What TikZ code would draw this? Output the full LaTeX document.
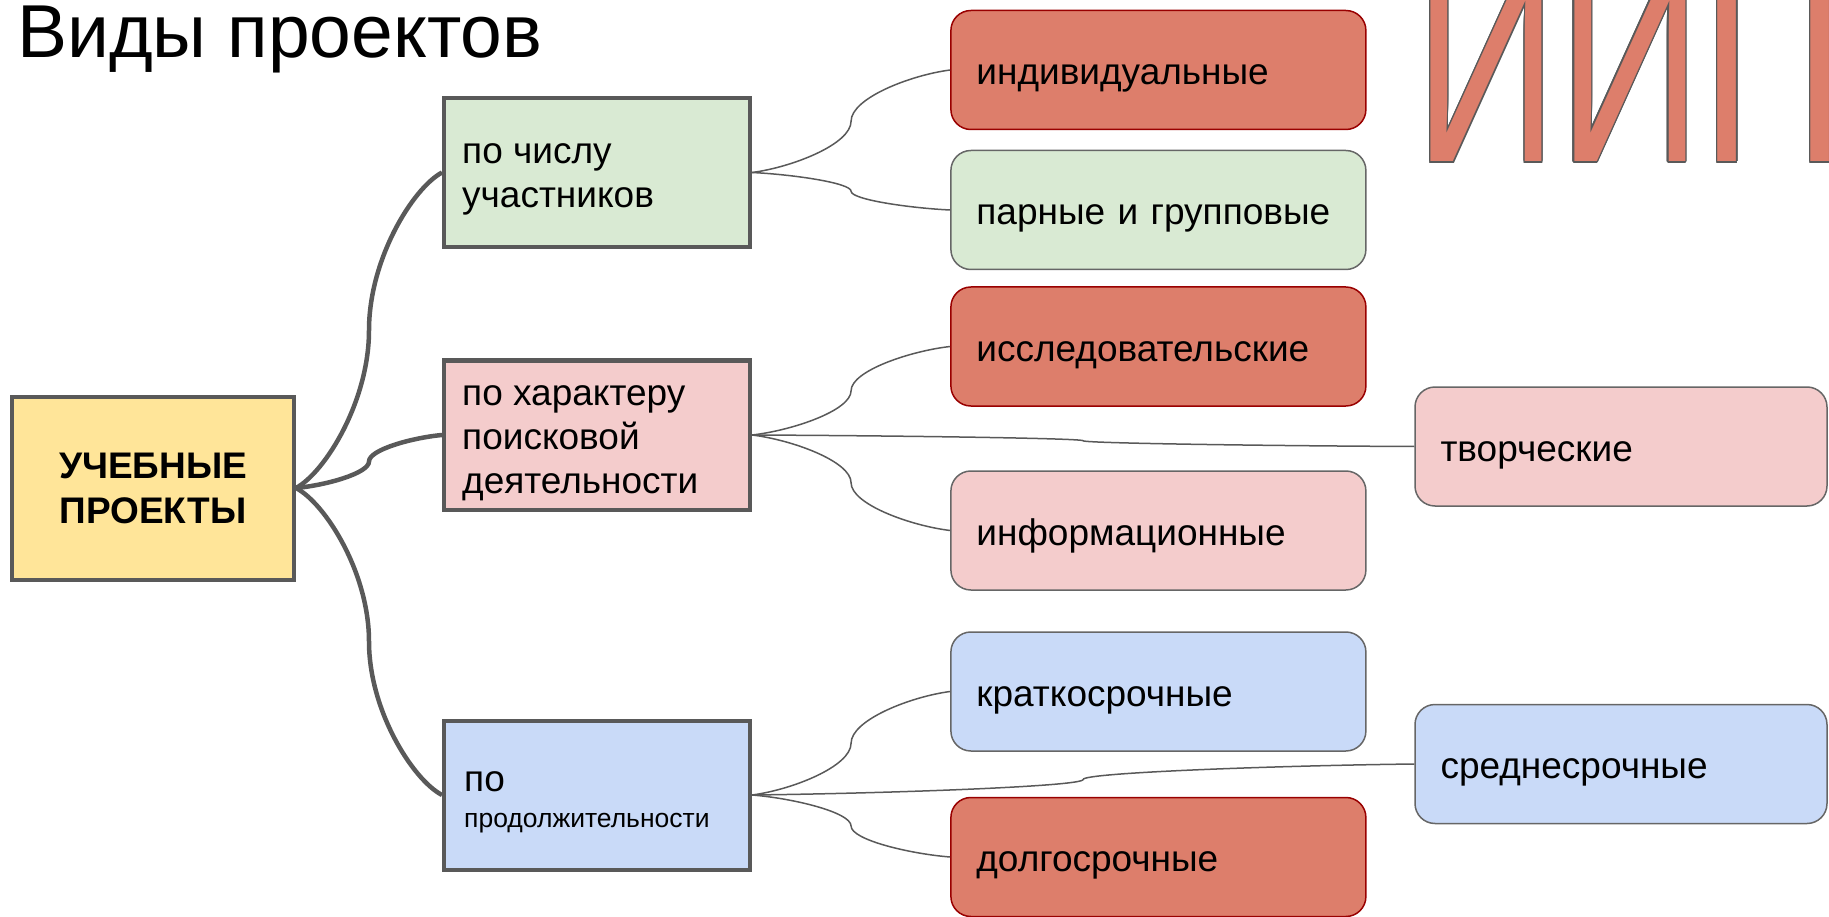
\documentclass[tikz,border=0pt]{standalone}
\usepackage{fontspec}
\setmainfont{Liberation Sans}
\usepackage{contour}
\contourlength{1.2pt}
\usetikzlibrary{calc}
\definecolor{redf}{HTML}{DD7E6B}
\definecolor{redb}{HTML}{990000}
\definecolor{greenf}{HTML}{D9EAD3}
\definecolor{pinkf}{HTML}{F4CCCC}
\definecolor{bluef}{HTML}{C9DAF8}
\definecolor{yellowf}{HTML}{FFE599}
\definecolor{linec}{HTML}{595959}
\definecolor{bord}{HTML}{666666}
\newcommand\mmconn[3]{\draw[#1] let \p1=(#2), \p2=(#3), \p3=($(\p1)!0.5!(\p2)$) in (\p1) .. controls ({\x1+0.4*(\x3-\x1)},{\y1+0.1*(\y3-\y1)}) and (\x3,{\y3+0.45*(\y1-\y3)}) .. (\p3) .. controls (\x3,{\y3+0.45*(\y2-\y3)}) and ({\x2-0.4*(\x2-\x3)},{\y2-0.1*(\y2-\y3)}) .. (\p2);}
\tikzset{
  mainbox/.style={draw=linec, line width=4pt, fill=yellowf, minimum width=282pt, minimum height=183pt, inner sep=0pt, align=center, font=\bfseries\fontsize{37}{45}\selectfont},
  midbox/.style={draw=linec, line width=4pt, minimum width=306pt, minimum height=149pt, inner sep=0pt},
  midtext/.style={anchor=west, inner sep=0pt, align=left, font=\fontsize{37}{44}\selectfont},
  leafbox/.style={draw=bord, line width=1.5pt, rounded corners=20pt, minimum width=415pt, minimum height=119pt, text width=364pt, inner xsep=25.5pt, inner ysep=0pt, align=left, text height=37pt, text depth=8pt, font=\fontsize{37}{44}\selectfont},
  leaftwo/.style={leafbox, minimum width=412pt, text width=361pt},
  redbox/.style={fill=redf, draw=redb},
  thickconn/.style={draw=linec, line width=4.5pt},
  thinconn/.style={draw=linec, line width=1.5pt},
}
\begin{document}
\begin{tikzpicture}[x=1pt, y=-1pt]
\useasboundingbox (0,0) rectangle (1829,917);
% big outlined letters (cut by the page)
\begin{scope}
\clip (0,0) rectangle (1829,917);
\node[anchor=base west, inner sep=0pt, font=\fontsize{200}{200}\selectfont, text=redf] (logo) at (1414,162) {\scalebox{1}[1.38]{\contour{linec}{ИИП}}};
\end{scope}
% title
\node[anchor=base west, inner sep=0pt, font=\fontsize{75}{85}\selectfont] (title) at (17,58) {Виды проектов};
% root
\node[mainbox] (root) at (153,488) {УЧЕБНЫЕ\\ПРОЕКТЫ};
% middle level
\node[midbox, fill=greenf] (m1) at (597,172.5) {};
\node[midbox, fill=pinkf] (m2) at (597,435) {};
\node[midbox, fill=bluef] (m3) at (597,795) {};
\node[midtext] (m1t) at ([xshift=20pt, yshift=-7pt]m1.west) {по числу\\участников};
\node[midtext] (m2t) at ([xshift=20pt, yshift=-8.5pt]m2.west) {по характеру\\поисковой\\деятельности};
\node[anchor=base west, inner sep=0pt, font=\fontsize{37}{44}\selectfont] (m3a) at (464,791) {по};
\node[anchor=base west, inner sep=0pt, font=\fontsize{26.5}{30}\selectfont] (m3b) at (464,827) {продолжительности};
% leaves column 1
\node[leafbox, redbox] (c1) at (1158.4,70) {индивидуальные};
\node[leafbox, fill=greenf] (c2) at (1158.4,210) {парные и групповые};
\node[leafbox, redbox] (c3) at (1158.4,346.5) {исследовательские};
\node[leafbox, fill=pinkf] (c4) at (1158.4,530.5) {информационные};
\node[leafbox, fill=bluef] (c5) at (1158.4,691.5) {краткосрочные};
\node[leafbox, redbox] (c6) at (1158.4,857) {долгосрочные};
% leaves column 2
\node[leaftwo, fill=pinkf] (d1) at (1621,446.5) {творческие};
\node[leaftwo, fill=bluef] (d2) at (1621,764) {среднесрочные};
% connectors
\mmconn{thickconn}{root.east}{m1.west}
\mmconn{thickconn}{root.east}{m2.west}
\mmconn{thickconn}{root.east}{m3.west}
\mmconn{thinconn}{m1.east}{c1.west}
\mmconn{thinconn}{m1.east}{c2.west}
\mmconn{thinconn}{m2.east}{c3.west}
\mmconn{thinconn}{m2.east}{c4.west}
\mmconn{thinconn}{m2.east}{d1.west}
\mmconn{thinconn}{m3.east}{c5.west}
\mmconn{thinconn}{m3.east}{d2.west}
\mmconn{thinconn}{m3.east}{c6.west}
\end{tikzpicture}
\end{document}
